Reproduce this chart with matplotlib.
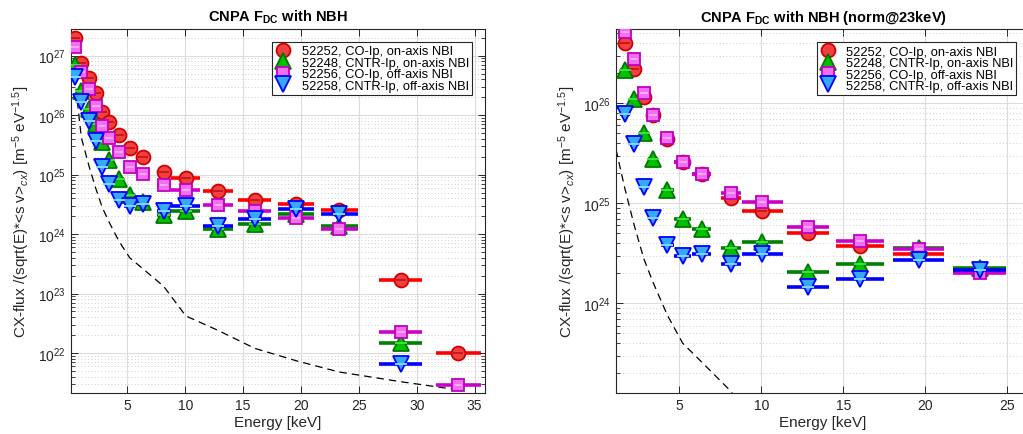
import numpy as np
import matplotlib
matplotlib.use('Agg')
import matplotlib.pyplot as plt
from matplotlib.lines import Line2D
from matplotlib.ticker import LogLocator, NullFormatter, FixedLocator

plt.rcParams['font.family'] = ['Liberation Sans', 'DejaVu Sans']
plt.rcParams['mathtext.fontset'] = 'custom'
plt.rcParams['mathtext.rm'] = 'Liberation Sans'
plt.rcParams['mathtext.it'] = 'Liberation Sans:italic'
plt.rcParams['mathtext.bf'] = 'Liberation Sans:bold'

# CNPA channel energies [keV] and half widths of the channels
energy = [0.44, 1.02, 1.68, 2.25, 2.83, 3.41, 4.27, 5.2, 6.35, 8.14,
          10.05, 12.84, 16.0, 19.6, 23.3, 28.6, 33.6]
half_width = [0.25, 0.28, 0.28, 0.28, 0.3, 0.3, 0.4, 0.5, 0.55, 0.6,
              1.25, 1.3, 1.45, 1.55, 1.6, 1.85, 1.95]

# left panel: raw F_DC
f_52252 = [1.95e27, 7.6e26, 4.2e26, 2.35e26, 1.12e26, 7.6e25, 4.6e25, 2.8e25, 2.0e25, 1.12e25,
           8.7e24, 5.2e24, 3.8e24, 3.2e24, 2.5e24, 1.66e23, 1.02e22]
f_52248 = [7.1e26, 2.5e26, 1.26e26, 7.1e25, 3.5e25, 1.74e25, 8.3e24, 4.5e24, 3.5e24, 2.1e24,
           2.4e24, 1.2e24, 1.48e24, 2.2e24, 1.35e24, 1.48e22, np.nan]
f_52256 = [1.41e27, 5.4e26, 2.8e26, 1.45e26, 6.6e25, 4.1e25, 2.4e25, 1.32e25, 1.02e25, 6.6e24,
           5.5e24, 3.1e24, 2.4e24, 1.86e24, 1.2e24, 2.24e22, 2.9e21]
f_52258 = [4.4e26, 1.66e26, 8.1e25, 3.7e25, 1.35e25, 6.9e24, 3.8e24, 3.0e24, 3.15e24, 2.4e24,
           2.95e24, 1.35e24, 1.8e24, 2.6e24, 2.2e24, 6.6e21, np.nan]
# dashed reference curve
f_ref = [4.5e26, 4.2e25, 1.4e25, 6.0e24, 2.8e24, 1.6e24, 7.6e23, 4.0e23, 2.6e23, 1.32e23,
         4.2e22, 2.4e22, 1.2e22, 7.4e21, 4.8e21, 3.3e21, 2.4e21]

# right panel: normalised at 23 keV
energy_n = [1.68, 2.25, 2.83, 3.41, 4.27, 5.2, 6.35, 8.14, 10.05, 12.84, 16.0, 19.6, 23.3]
half_width_n = [0.28, 0.28, 0.3, 0.3, 0.4, 0.5, 0.55, 0.6, 1.25, 1.3, 1.45, 1.55, 1.6]
n_52252 = [4.0e26, 2.2e26, 1.15e26, 7.6e25, 4.4e25, 2.6e25, 1.95e25, 1.12e25, 8.3e24,
           5.1e24, 3.7e24, 3.1e24, 2.14e24]
n_52248 = [2.15e26, 1.1e26, 5.1e25, 2.75e25, 1.35e25, 6.9e24, 5.5e24, 3.55e24, 4.1e24,
           2.05e24, 2.45e24, 3.6e24, 2.25e24]
n_52256 = [5.2e26, 2.75e26, 1.26e26, 7.6e25, 4.5e25, 2.6e25, 1.95e25, 1.26e25, 1.02e25,
           5.8e24, 4.2e24, 3.5e24, 2.0e24]
n_52258 = [7.8e25, 3.9e25, 1.45e25, 7.1e24, 3.8e24, 3.0e24, 3.1e24, 2.45e24, 3.1e24,
           1.45e24, 1.74e24, 2.7e24, 2.14e24]

labels = ['52252, CO-Ip, on-axis NBI', '52248, CNTR-Ip, on-axis NBI',
          '52256, CO-Ip, off-axis NBI', '52258, CNTR-Ip, off-axis NBI']
# (marker, size, edge, face, bar colour, stripe colour)
styles = [('o', 10, '#d00000', '#f04040', '#ff0000', '#c81818'),
          ('^', 11.5, '#007800', '#00c000', '#008000', '#40e040'),
          ('s', 8.5, '#c000c0', '#f070f0', '#cc00cc', '#ffa8ff'),
          ('v', 11.5, '#0000ff', '#35a8ff', '#0000ff', '#80d8ff')]


def draw_panel(ax, E, dE, series, ref_E, ref, title, xlim, ylim, yticks, legend_anchor):
    ax.plot(ref_E, ref, color='k', lw=0.9, dashes=(6, 4), zorder=2)
    z = 3
    for y, (m, ms, ec, fc, bc, sc) in zip(series, styles):
        E = np.asarray(E)
        y = np.asarray(y, dtype=float)
        ax.hlines(y, E - np.asarray(dE), E + np.asarray(dE), color=bc, lw=2.6, zorder=z)
        ax.plot(E, y, ls='none', marker=m, ms=ms, mec=ec, mfc=fc, mew=1.3, zorder=z + 0.1)
        ax.plot(E, y, ls='none', marker='_', ms=ms * 0.7, mec=sc, mew=1.4, zorder=z + 0.2)
        z += 1
    ax.set_yscale('log')
    ax.set_xlim(*xlim)
    ax.set_ylim(*ylim)
    ax.set_title(title, fontsize=10.5, fontweight='bold', pad=6)
    ax.set_xlabel('Energy [keV]', fontsize=11, color='#262626', labelpad=2)
    ax.set_ylabel('CX-flux /(sqrt(E)*<s v>$_{cx}$) [m$^{-5}$ eV$^{-1.5}$]',
                  fontsize=11, color='#262626', labelpad=4)
    ax.xaxis.set_major_locator(FixedLocator([5, 10, 15, 20, 25, 30, 35]))
    ax.yaxis.set_major_locator(FixedLocator(yticks))
    ax.yaxis.set_minor_locator(LogLocator(base=10, subs=np.arange(2, 10), numticks=20))
    ax.yaxis.set_minor_formatter(NullFormatter())
    ax.tick_params(which='both', direction='in', top=True, right=True, colors='#262626',
                   labelsize=10)
    ax.tick_params(which='major', length=5, width=0.7)
    ax.tick_params(which='minor', length=3, width=0.6)
    ax.grid(True, which='major', color='#dcdcdc', lw=0.8, ls='-', zorder=0)
    ax.grid(True, which='minor', axis='y', color='#c0c0c0', lw=0.6, ls=(0, (1, 3)), zorder=0)
    ax.set_axisbelow(True)
    for sp in ax.spines.values():
        sp.set_color('#262626')
        sp.set_linewidth(0.8)
    handles = [Line2D([], [], ls='none', marker=m, ms=ms, mec=ec, mfc=fc, mew=1.3)
               for (m, ms, ec, fc, bc, sc) in styles]
    leg = ax.legend(handles, labels, loc='upper right', bbox_to_anchor=legend_anchor,
                    borderaxespad=0, fontsize=9.3, labelspacing=-0.05, handlelength=1.2,
                    handletextpad=0.8, borderpad=0.25, fancybox=False, framealpha=1,
                    edgecolor='#262626')
    leg.get_frame().set_linewidth(0.8)
    leg.set_zorder(20)


fig = plt.figure(figsize=(10.23, 4.35), dpi=100)
ax1 = fig.add_axes([0.0691, 0.0943, 0.405, 0.8368])
ax2 = fig.add_axes([0.6022, 0.0943, 0.4047, 0.8368])

draw_panel(ax1, energy, half_width, [f_52252, f_52248, f_52256, f_52258], energy, f_ref,
           r'CNPA F$_{\mathbf{DC}}$ with NBH', (0.1, 35.9), (2.13e21, 2.81e27),
           [1e22, 1e23, 1e24, 1e25, 1e26, 1e27], (0.969, 0.964))
draw_panel(ax2, energy_n, half_width_n, [n_52252, n_52248, n_52256, n_52258], energy, f_ref,
           r'CNPA F$_{\mathbf{DC}}$ with NBH (norm@23keV)', (1.14, 26.38), (1.27e23, 5.53e26),
           [1e24, 1e25, 1e26], (0.967, 0.963))

fig.savefig('out.png', dpi=100)
